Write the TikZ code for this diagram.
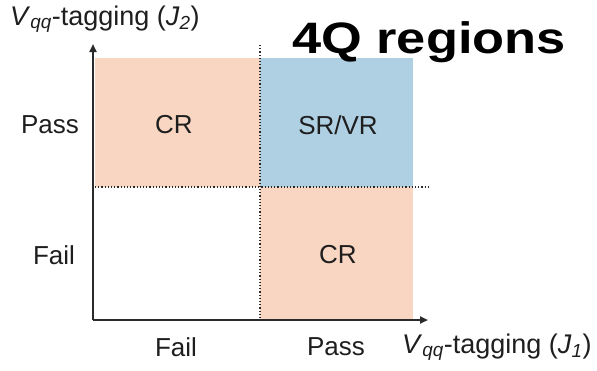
\documentclass[tikz,border=0pt]{standalone}
\usepackage{fontspec}
\setmainfont{Liberation Sans}
\newfontfamily\titlefont[FakeStretch=1.19]{Liberation Sans}
\usetikzlibrary{arrows.meta}
\definecolor{peach}{HTML}{F9D6C2}
\definecolor{skyb}{HTML}{AFCFE3}
\definecolor{axisc}{HTML}{2A2A2A}
\definecolor{txt}{HTML}{1E1E1E}
\begin{document}
\begin{tikzpicture}[x=1pt,y=-1pt,
  lbl/.style={font=\fontsize{26}{30}\selectfont, text=txt, inner sep=0pt},
  axislbl/.style={font=\fontsize{27}{30}\selectfont, text=txt, inner sep=0pt, anchor=base west},
  axis/.style={draw=axisc, line width=2pt, -{Triangle[length=8pt,width=7pt]}},
  divider/.style={draw=axisc, line width=1.2pt, dotted}]
\useasboundingbox (0,0) rectangle (597,370);
% quadrant fills
\fill[peach] (95,58) rectangle (260,187);
\fill[skyb] (260,58) rectangle (413,187);
\fill[peach] (260,187) rectangle (413,320);
% dividers
\coordinate (vtop) at (260,45);
\coordinate (vbot) at (260,320);
\coordinate (hl) at (95,187);
\coordinate (hr) at (428,187);
\draw[divider] (vtop) -- (vbot);
\draw[divider] (hl) -- (hr);
% axes
\coordinate (origin) at (93,320);
\coordinate (ytip) at (93,44);
\coordinate (xtip) at (428,320);
\draw[axis] (origin) -- (ytip);
\draw[axis] (origin) -- (xtip);
% region labels
\node[lbl] (crtl) at (174,125) {CR};
\node[lbl] (srvr) at (338,125) {SR/VR};
\node[lbl] (crbr) at (338,255) {CR};
% tick labels
\node[lbl] (ypass) at (50,125) {Pass};
\node[lbl] (yfail) at (54,255) {Fail};
\node[lbl] (xfail) at (176,347) {Fail};
\node[lbl] (xpass) at (336,347) {Pass};
% axis titles
\node[axislbl] (ytitle) at (10,25) {\textit{V}\textsubscript{\textit{qq}}-tagging (\textit{J}\textsubscript{\textit{2}})};
\node[axislbl] (xtitle) at (402,353) {\textit{V}\textsubscript{\textit{qq}}-tagging (\textit{J}\textsubscript{\textit{1}})};
% title
\node[inner sep=0pt, anchor=base west, font=\titlefont\fontsize{44}{48}\selectfont\bfseries] (title) at (292,53) {4Q regions};
\end{tikzpicture}
\end{document}
